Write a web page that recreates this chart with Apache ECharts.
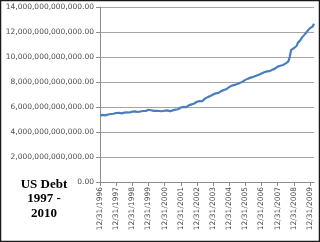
<!DOCTYPE html>
<html>
<head>
<meta charset="utf-8">
<title>US Debt</title>
<style>
html, body { margin: 0; padding: 0; background: #fff; overflow: hidden; }
#chart { width: 320px; height: 242px; }
</style>
</head>
<body>
<div id="chart"></div>
<script src="https://cdn.jsdelivr.net/npm/echarts@6/dist/echarts.min.js"></script>
<script>
// total public debt, trillions of dollars, month ends Dec 1996 .. Mar 2010
var debt1996 = [5.30];
var debt1997 = [5.32, 5.37, 5.40, 5.33, 5.37, 5.40, 5.40, 5.44, 5.43, 5.46, 5.50, 5.52];
var debt1998 = [5.52, 5.54, 5.55, 5.49, 5.51, 5.55, 5.55, 5.57, 5.53, 5.56, 5.60, 5.63];
var debt1999 = [5.62, 5.65, 5.66, 5.60, 5.62, 5.64, 5.64, 5.68, 5.66, 5.68, 5.71, 5.78];
var debt2000 = [5.72, 5.74, 5.77, 5.69, 5.66, 5.69, 5.68, 5.68, 5.68, 5.66, 5.70, 5.70];
var debt2001 = [5.72, 5.73, 5.77, 5.66, 5.66, 5.73, 5.72, 5.79, 5.81, 5.82, 5.88, 5.96];
var debt2002 = [5.94, 6.01, 6.01, 5.99, 6.02, 6.13, 6.16, 6.21, 6.23, 6.28, 6.36, 6.42];
var debt2003 = [6.42, 6.47, 6.46, 6.46, 6.55, 6.67, 6.76, 6.79, 6.80, 6.88, 6.95, 7.00];
var debt2004 = [7.03, 7.09, 7.13, 7.13, 7.20, 7.27, 7.29, 7.36, 7.38, 7.43, 7.53, 7.60];
var debt2005 = [7.62, 7.71, 7.78, 7.77, 7.78, 7.84, 7.87, 7.93, 7.93, 8.03, 8.09, 8.17];
var debt2006 = [8.20, 8.27, 8.37, 8.35, 8.36, 8.42, 8.42, 8.50, 8.51, 8.58, 8.62, 8.68];
var debt2007 = [8.71, 8.78, 8.85, 8.85, 8.82, 8.87, 8.93, 8.98, 9.01, 9.07, 9.14, 9.23];
var debt2008 = [9.24, 9.30, 9.44, 9.36, 9.37, 9.49, 9.59, 9.65, 10.02, 10.57, 10.66, 10.70];
var debt2009 = [10.63, 10.88, 11.13, 11.24, 11.36, 11.55, 11.66, 11.79, 11.91, 12.06, 12.15, 12.31];
var debt2010 = [12.28, 12.44, 12.66];

var debt = [].concat(debt1996, debt1997, debt1998, debt1999, debt2000, debt2001,
    debt2002, debt2003, debt2004, debt2005, debt2006, debt2007, debt2008, debt2009, debt2010);

// month-end dates as categories, starting 12/31/1996
var dates = [];
for (var i = 0; i < debt.length; i++) {
    var m = (11 + i) % 12;            // 0-based month
    var y = 1996 + Math.floor((11 + i) / 12);
    var d = new Date(y, m + 1, 0).getDate();
    dates.push((m + 1) + '/' + d + '/' + y);
}

var titleLines = ['US Debt', '1997 -', '2010'];

function money(v) {
    var s = Math.round(v * 1e12).toString().replace(/\B(?=(\d{3})+(?!\d))/g, ',');
    return s + '.00';
}

var chart = echarts.init(document.getElementById('chart'));
chart.setOption({
    animation: false,
    grid: { left: 100, right: 6, top: 7, bottom: 60 },
    xAxis: {
        type: 'category',
        data: dates,
        boundaryGap: false,
        axisLine: { lineStyle: { color: '#8c8c8c' } },
        axisTick: { interval: 11, length: 4, lineStyle: { color: '#8c8c8c' } },
        axisLabel: {
            interval: 11,
            rotate: 90,
            fontFamily: 'DejaVu Sans',
            fontSize: 7.5,
            color: '#4d4d4d',
            margin: 5
        },
        splitLine: { show: false }
    },
    yAxis: {
        type: 'value',
        min: 0,
        max: 14,
        interval: 2,
        axisLine: { show: true, lineStyle: { color: '#8c8c8c' } },
        axisTick: { show: true, length: 4, lineStyle: { color: '#8c8c8c' } },
        axisLabel: {
            formatter: function (v) { return v === 0 ? '0.00' : money(v); },
            fontFamily: 'DejaVu Sans',
            fontSize: 7.5,
            color: '#4d4d4d',
            margin: 6
        },
        splitLine: { lineStyle: { color: '#a6a6a6' } }
    },
    series: [{
        type: 'line',
        data: debt,
        showSymbol: false,
        lineStyle: { color: '#4a7ebb', width: 2.2 }
    }],
    graphic: [
        {
            type: 'text',
            x: 44,
            y: 177,
            style: {
                text: titleLines.join('\n'),
                textAlign: 'center',
                fontFamily: 'Liberation Serif',
                fontWeight: 'bold',
                fontSize: 13,
                lineHeight: 14.5,
                fill: '#000'
            }
        },
        {
            type: 'rect',
            shape: { x: 0.5, y: 0.5, width: 319, height: 241 },
            style: { fill: 'none', stroke: '#1a1a1a', lineWidth: 1.5 },
            silent: true
        }
    ]
});
</script>
</body>
</html>
